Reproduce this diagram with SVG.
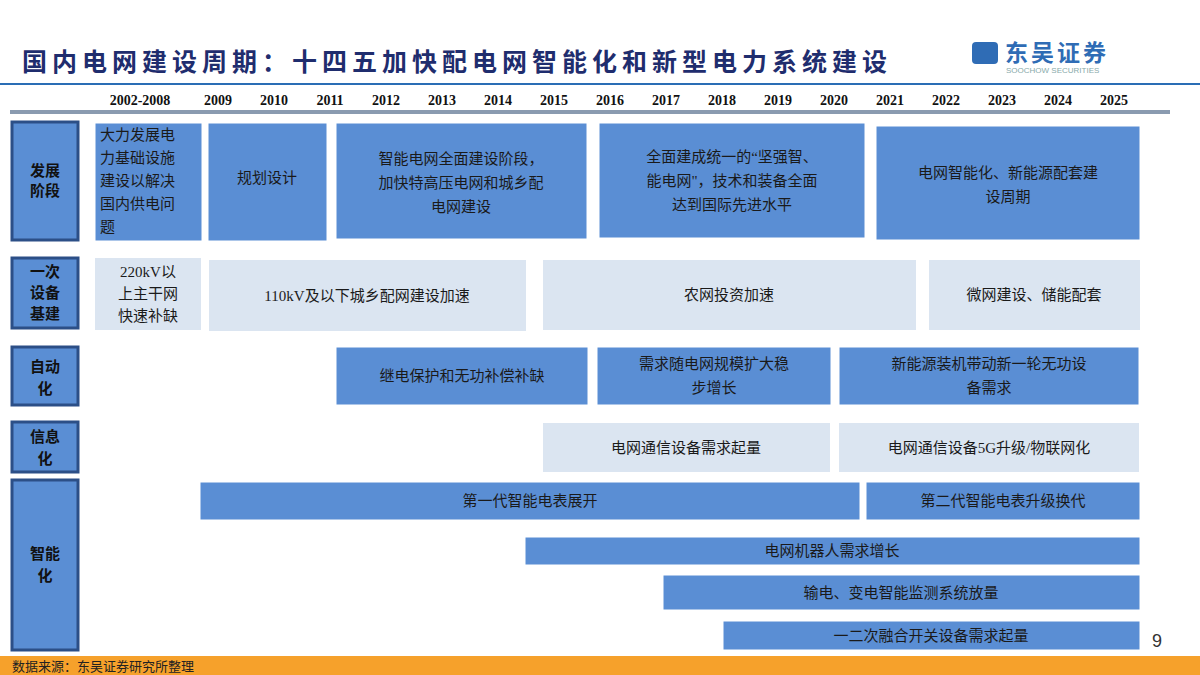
<svg xmlns="http://www.w3.org/2000/svg" width="1200" height="675" viewBox="0 0 1200 675">
<style>
text{font-family:"Liberation Serif","Noto Sans CJK SC",serif;fill:#1a1a1a}
.t{font-size:15px;text-anchor:middle}
.y{font-size:14px;font-weight:bold;text-anchor:middle;fill:#111}
.lab{font-size:15px;font-weight:bold;text-anchor:middle;fill:#111}
.b{fill:#5a8ed4;stroke:#fff;stroke-width:1}
.l{fill:#dbe5f1}
.hd{fill:#5a8ed4;stroke:#2c4f87;stroke-width:3}
</style>
<rect width="1200" height="675" fill="#fff"/>
<text x="22" y="71" style="font-size:25px;font-weight:bold;fill:#1f2d6e;letter-spacing:5px">国内电网建设周期：十四五加快配电网智能化和新型电力系统建设</text>
<g id="logo">
<rect x="972" y="42" width="26" height="22" rx="4" fill="#2f6cb5"/>
<text x="1005" y="61" style="font-size:23px;font-weight:bold;fill:#2f6cb5;letter-spacing:3px">东吴证券</text>
<text x="1006" y="73" style="font-family:'Liberation Sans',sans-serif;font-size:8px;fill:#8aa">SOOCHOW SECURITIES</text>
</g>
<line x1="0" y1="84" x2="1200" y2="84" stroke="#2a6db5" stroke-width="2"/>
<g id="years">
<text class="y" x="140" y="105">2002-2008</text><text class="y" x="218" y="105">2009</text><text class="y" x="274" y="105">2010</text><text class="y" x="330" y="105">2011</text><text class="y" x="386" y="105">2012</text><text class="y" x="442" y="105">2013</text><text class="y" x="498" y="105">2014</text><text class="y" x="554" y="105">2015</text><text class="y" x="610" y="105">2016</text><text class="y" x="666" y="105">2017</text><text class="y" x="722" y="105">2018</text><text class="y" x="778" y="105">2019</text><text class="y" x="834" y="105">2020</text><text class="y" x="890" y="105">2021</text><text class="y" x="946" y="105">2022</text><text class="y" x="1002" y="105">2023</text><text class="y" x="1058" y="105">2024</text><text class="y" x="1114" y="105">2025</text>
</g>
<g id="connectors"><line x1="10" y1="112" x2="1170" y2="112" stroke="#8a9bb0" stroke-width="4"/></g>
<g id="row1">
<rect class="hd" x="12" y="122" width="66" height="118"/><text class="lab" x="45" y="176">发展</text><text class="lab" x="45" y="196">阶段</text>
<rect class="b" x="95" y="123" width="107" height="118"/>
<text x="100" y="140" style="font-size:15px">大力发展电</text><text x="100" y="163" style="font-size:15px">力基础设施</text><text x="100" y="186" style="font-size:15px">建设以解决</text><text x="100" y="209" style="font-size:15px">国内供电问</text><text x="100" y="232" style="font-size:15px">题</text>
<rect class="b" x="208" y="123" width="119" height="118"/><text class="t" x="267" y="183">规划设计</text>
<rect class="b" x="336" y="123" width="251" height="116"/><text class="t" x="461" y="164">智能电网全面建设阶段，</text><text class="t" x="461" y="188">加快特高压电网和城乡配</text><text class="t" x="461" y="212">电网建设</text>
<rect class="b" x="599" y="123" width="266" height="115"/><text class="t" x="732" y="162">全面建成统一的“坚强智、</text><text class="t" x="732" y="186">能电网"，技术和装备全面</text><text class="t" x="732" y="210">达到国际先进水平</text>
<rect class="b" x="876" y="126" width="264" height="114"/><text class="t" x="1008" y="178">电网智能化、新能源配套建</text><text class="t" x="1008" y="202">设周期</text>
</g>
<g id="row2">
<rect class="hd" x="12" y="258" width="66" height="70"/><text class="lab" x="45" y="277">一次</text><text class="lab" x="45" y="298">设备</text><text class="lab" x="45" y="319">基建</text>
<rect class="l" x="95" y="258" width="106" height="72"/><text class="t" x="148" y="277">220kV以</text><text class="t" x="148" y="299">上主干网</text><text class="t" x="148" y="321">快速补缺</text>
<rect class="l" x="209" y="260" width="317" height="71"/><text class="t" x="367" y="301">110kV及以下城乡配网建设加速</text>
<rect class="l" x="543" y="260" width="373" height="70"/><text class="t" x="729" y="300">农网投资加速</text>
<rect class="l" x="929" y="260" width="211" height="70"/><text class="t" x="1034" y="300">微网建设、储能配套</text>
</g>
<g id="row3">
<rect class="hd" x="12" y="347" width="66" height="58"/><text class="lab" x="45" y="372">自动</text><text class="lab" x="45" y="394">化</text>
<rect class="b" x="336" y="347" width="252" height="58"/><text class="t" x="462" y="381">继电保护和无功补偿补缺</text>
<rect class="b" x="597" y="347" width="234" height="58"/><text class="t" x="714" y="369">需求随电网规模扩大稳</text><text class="t" x="714" y="393">步增长</text>
<rect class="b" x="839" y="347" width="300" height="58"/><text class="t" x="989" y="369">新能源装机带动新一轮无功设</text><text class="t" x="989" y="393">备需求</text>
</g>
<g id="row4">
<rect class="hd" x="12" y="422" width="66" height="50"/><text class="lab" x="45" y="442">信息</text><text class="lab" x="45" y="464">化</text>
<rect class="l" x="543" y="423" width="287" height="49"/><text class="t" x="686" y="453">电网通信设备需求起量</text>
<rect class="l" x="839" y="423" width="300" height="49"/><text class="t" x="989" y="453">电网通信设备5G升级/物联网化</text>
</g>
<g id="row5">
<rect class="hd" x="12" y="480" width="66" height="170"/><text class="lab" x="45" y="559">智能</text><text class="lab" x="45" y="581">化</text>
<rect class="b" x="200" y="482" width="660" height="38"/><text class="t" x="530" y="506">第一代智能电表展开</text>
<rect class="b" x="866" y="482" width="274" height="38"/><text class="t" x="1003" y="506">第二代智能电表升级换代</text>
<rect class="b" x="525" y="537" width="615" height="28"/><text class="t" x="832" y="556">电网机器人需求增长</text>
<rect class="b" x="663" y="575" width="477" height="35"/><text class="t" x="901" y="598">输电、变电智能监测系统放量</text>
<rect class="b" x="723" y="621" width="417" height="29"/><text class="t" x="931" y="641">一二次融合开关设备需求起量</text>
</g>
<text x="1152" y="647" style="font-family:'Liberation Sans',sans-serif;font-size:18px;fill:#333">9</text>
<rect x="0" y="656" width="1200" height="19" fill="#f6a12b"/>
<text x="12" y="671" style="font-size:13px;fill:#222">数据来源：东吴证券研究所整理</text>
</svg>
